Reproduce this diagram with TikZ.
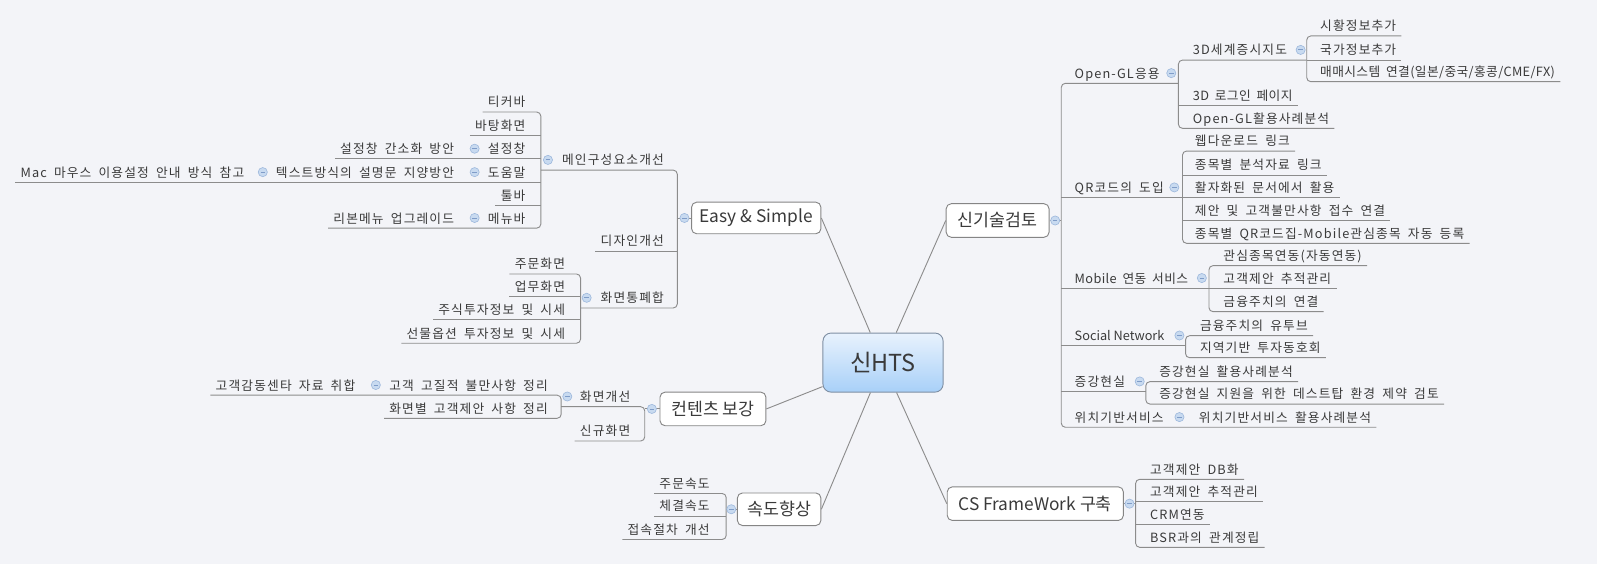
\documentclass[tikz,border=0pt]{standalone}
\usepackage{fontspec}
\setmainfont{Noto Sans CJK KR}[LetterSpace=9,WordSpace=1.8]
\newfontfamily\topicfont{Noto Sans CJK KR}
\newfontfamily\tightfont{Noto Sans CJK KR}[LetterSpace=3,WordSpace=1.8]
\usetikzlibrary{calc}
\definecolor{bg}{HTML}{F3F4F8}
\definecolor{lnc}{HTML}{8C8C8C}
\definecolor{txc}{HTML}{3A3A3A}
\definecolor{bdc}{HTML}{858585}
\definecolor{icf}{HTML}{C8DAF0}
\definecolor{icd}{HTML}{9DB8DC}
\definecolor{icm}{HTML}{7F9CC8}
\definecolor{htsA}{HTML}{E8F2FD}
\definecolor{htsB}{HTML}{A8D0F8}
\definecolor{htsD}{HTML}{7F8FA3}
\begin{document}
\begin{tikzpicture}[x=1pt,y=-1pt,
  line/.style={draw=lnc, line width=0.9pt},
  brk/.style={line, rounded corners=4pt},
  lbl/.style={font=\fontsize{12.5}{14}\selectfont, text=txc, inner sep=0pt},
  lL/.style={lbl, anchor=base east},
  lR/.style={lbl, anchor=base west},
  tlR/.style={lR, font=\tightfont\fontsize{12.5}{14}\selectfont},
  ttlR/.style={lR, font=\topicfont\fontsize{12.5}{14}\selectfont},
  topic/.style={draw=bdc, line width=0.9pt, fill=white, rounded corners=5pt,
    font=\topicfont\fontsize{17}{20}\selectfont, text=txc, inner sep=0pt},
  ico/.style={circle, draw=icd, fill=icf, line width=0.6pt, minimum size=9pt, inner sep=0pt,
    path picture={\draw[icm, line width=0.8pt] ([xshift=-2.2pt]path picture bounding box.center) -- ([xshift=2.2pt]path picture bounding box.center);}}
]
\fill[bg] (0,0) rectangle (1568,554);
\useasboundingbox (0,0) rectangle (1568,554);

% ---------- central and main topics ----------
\node[draw=htsD, line width=0.9pt, rounded corners=8pt, top color=htsA, bottom color=htsB,
  minimum width=118pt, minimum height=58pt, inner sep=0pt,
  font=\topicfont\fontsize{23}{26}\selectfont, text=txc] (hts) at (867,356) {신HTS};
\node[topic, minimum width=127pt, minimum height=31pt] (easy) at (742.5,214) {Easy \& Simple};
\node[topic, minimum width=104pt, minimum height=33pt] (knt) at (700,401.5) {컨텐츠 보강};
\node[topic, minimum width=82pt, minimum height=32pt] (sd) at (765,500) {속도향상};
\node[topic, minimum width=101pt, minimum height=33pt] (sgt) at (979.5,216.5) {신기술검토};
\node[topic, minimum width=173pt, minimum height=33pt] (cs) at (1016.5,494.5) {CS FrameWork 구축};

% ---------- left side: Easy & Simple ----------
\node[lL] (mcs) at (652,162) {메인구성요소개선};
\node[lL] (des) at (652,241.4) {디자인개선};
\node[lL] (hmt) at (652,297.4) {화면통폐합};

\node[lL] (tk) at (516,105) {티커바};
\node[lL] (bt) at (516,128) {바탕화면};
\node[lL] (sj) at (516,151) {설정창};
\node[lL] (dw) at (516,174) {도움말};
\node[lL] (tb) at (516,197) {툴바};
\node[lL] (mn) at (516,219) {메뉴바};
\node[lL] (sj1) at (446,151) {설정창 간소화 방안};
\node[lL] (dw1) at (446,174) {텍스트방식의 설명문 지양방안};
\node[lL] (dw2) at (240,174) {Mac 마우스 이용설정 안내 방식 참고};
\node[lL] (mn1) at (446,219) {리본메뉴 업그레이드};

\node[lL] (jm) at (555,264) {주문화면};
\node[lL] (um) at (555,286.5) {업무화면};
\node[lL] (js) at (555,309) {주식투자정보 및 시세};
\node[lL] (so) at (555,332) {선물옵션 투자정보 및 시세};

% ---------- left side: 컨텐츠 보강 ----------
\node[lL] (hg) at (619,394.3) {화면개선};
\node[lL] (sg) at (619,428) {신규화면};
\node[lL] (gg) at (538,383) {고객 고질적 불만사항 정리};
\node[lL] (gg1) at (349,383) {고객감동센타 자료 취합};
\node[lL] (hb) at (538,405.7) {화면별 고객제안 사항 정리};

% ---------- left side: 속도향상 ----------
\node[lL] (jms) at (697,479.5) {주문속도};
\node[lL] (cgs) at (697,501.6) {체결속도};
\node[lL] (jsj) at (697,524.7) {접속절차 개선};

% ---------- right side: 신기술검토 ----------
\node[lR] (ogl) at (1055,76.8) {Open-GL응용};
\node[lR] (qr) at (1055,189) {QR코드의 도입};
\node[tlR] (mob) at (1055,278) {Mobile 연동 서비스};
\node[ttlR] (sn) at (1055,334.4) {Social Network};
\node[lR] (ar) at (1055,379.5) {증강현실};
\node[lR] (lbs) at (1055,414.5) {위치기반서비스};

\node[lR] (w3d) at (1171,54) {3D세계증시지도};
\node[tlR] (lg) at (1171,99) {3D 로그인 페이지};
\node[lR] (oga) at (1171,121) {Open-GL활용사례분석};
\node[lR] (sh) at (1296,30.3) {시황정보추가};
\node[lR] (kg) at (1296,54) {국가정보추가};
\node[tlR] (mm) at (1296,75.2) {매매시스템 연결(일본/중국/홍콩/CME/FX)};

\node[lR] (wd) at (1173,143.3) {웹다운로드 링크};
\node[lR] (jb) at (1173,166.8) {종목별 분석자료 링크};
\node[lR] (hj) at (1173,189) {활자화된 문서에서 활용};
\node[lR] (jg) at (1173,211.7) {제안 및 고객불만사항 접수 연결};
\node[lR] (jq) at (1173,233.9) {종목별 QR코드집-Mobile관심종목 자동 등록};

\node[lR] (gs) at (1201,255.8) {관심종목연동(자동연동)};
\node[lR] (gc) at (1201,278) {고객제안 추적관리};
\node[lR] (gj) at (1201,301) {금융주치의 연결};

\node[lR] (gy) at (1178,324.6) {금융주치의 유투브};
\node[lR] (jy) at (1178,346.2) {지역기반 투자동호회};

\node[lR] (ar1) at (1138,369.7) {증강현실 활용사례분석};
\node[lR] (ar2) at (1138,391.7) {증강현실 지원을 위한 데스트탑 환경 제약 검토};

\node[lR] (lbs1) at (1177,414.5) {위치기반서비스 활용사례분석};

% ---------- right side: CS FrameWork ----------
\node[lR] (c1) at (1129,465.6) {고객제안 DB화};
\node[lR] (c2) at (1129,487.5) {고객제안 추적관리};
\node[lR] (c3) at (1129,510.4) {CRM연동};
\node[lR] (c4) at (1129,532.4) {BSR과의 관계정립};

% ---------- connectors from the centre ----------
\draw[line] (hts) -- (easy.east);
\draw[line] (hts) -- (knt.east);
\draw[line] (hts) -- (sd.east);
\draw[line] (hts) -- (sgt.west);
\draw[line] (hts) -- (cs.west);

% ---------- Easy & Simple branches ----------
\coordinate (bE) at (665,214);
\draw[brk] (531,167) -- (665,167) -- (665,302.4) -- (570,302.4);
\draw[line] ($(des.base west)+(-5,5)$) -- (665,246.4);
\draw[line] (bE) -- (easy.west);

\draw[brk] ($(tk.base west)+(-5,5)$) -- (531,110) -- (531,224) -- ($(mn1.base west)+(-5,5)$);
\draw[line] ($(bt.base west)+(-5,5)$) -- (531,133);
\draw[line] ($(sj1.base west)+(-5,5)$) -- (531,156);
\draw[line] ($(dw2.base west)+(-5,5)$) -- (531,179);
\draw[line] ($(tb.base west)+(-5,5)$) -- (531,202);

\draw[brk] ($(jm.base west)+(-5,5)$) -- (570,269) -- (570,337) -- ($(so.base west)+(-5,5)$);
\draw[line] ($(um.base west)+(-5,5)$) -- (570,291.5);
\draw[line] ($(js.base west)+(-5,5)$) -- (570,314);

% ---------- 컨텐츠 보강 branches ----------
\coordinate (bK) at (633,401.5);
\draw[brk] (551,399.3) -- (633,399.3) -- (633,433) -- ($(sg.base west)+(-5,5)$);
\draw[line] (bK) -- (knt.west);
\draw[brk] ($(gg1.base west)+(-5,5)$) -- (551,388) -- (551,410.7) -- ($(hb.base west)+(-5,5)$);

% ---------- 속도향상 branches ----------
\coordinate (bS) at (713,500);
\draw[brk] ($(jms.base west)+(-5,5)$) -- (713,484.5) -- (713,529.7) -- ($(jsj.base west)+(-5,5)$);
\draw[line] ($(cgs.base west)+(-5,5)$) -- (713,506.6);
\draw[line] (bS) -- (sd.west);

% ---------- 신기술검토 branches ----------
\coordinate (bN) at (1042,216.5);
\draw[line] (sgt.east) -- (bN);
\draw[brk] (1157,81.8) -- (1042,81.8) -- (1042,419.5) -- ($(lbs1.base east)+(5,5)$);
\draw[line] (1042,194) -- (1161,194);
\draw[line] (1042,283) -- (1187,283);
\draw[line] (1042,339.4) -- (1164,339.4);
\draw[line] (1042,384.5) -- (1125,384.5);

\draw[brk] (1283,59) -- (1157,59) -- (1157,126) -- ($(oga.base east)+(5,5)$);
\draw[line] (1157,104) -- ($(lg.base east)+(5,5)$);
\draw[brk] ($(sh.base east)+(5,5)$) -- (1283,35.3) -- (1283,80.2) -- ($(mm.base east)+(5,5)$);
\draw[line] (1283,59) -- ($(kg.base east)+(5,5)$);

\draw[brk] ($(wd.base east)+(5,5)$) -- (1161,148.3) -- (1161,238.9) -- ($(jq.base east)+(5,5)$);
\draw[line] (1161,171.8) -- ($(jb.base east)+(5,5)$);
\draw[line] (1161,194) -- ($(hj.base east)+(5,5)$);
\draw[line] (1161,216.7) -- ($(jg.base east)+(5,5)$);

\draw[brk] ($(gs.base east)+(5,5)$) -- (1187,260.8) -- (1187,306) -- ($(gj.base east)+(5,5)$);
\draw[line] (1187,283) -- ($(gc.base east)+(5,5)$);

\draw[brk] ($(gy.base east)+(5,5)$) -- (1164,329.6) -- (1164,351.2) -- ($(jy.base east)+(5,5)$);
\draw[brk] ($(ar1.base east)+(5,5)$) -- (1125,374.7) -- (1125,396.7) -- ($(ar2.base east)+(5,5)$);

% ---------- CS FrameWork branches ----------
\coordinate (bC) at (1115,494.5);
\draw[line] (cs.east) -- (bC);
\draw[brk] ($(c1.base east)+(5,5)$) -- (1115,470.6) -- (1115,537.4) -- ($(c4.base east)+(5,5)$);
\draw[line] (1115,492.5) -- ($(c2.base east)+(5,5)$);
\draw[line] (1115,515.4) -- ($(c3.base east)+(5,5)$);

% ---------- collapse icons ----------
\node[ico] (imcs) at (538,157) {};
\node[ico] (isj) at (466,146) {};
\node[ico] (idw) at (466,169) {};
\node[ico] (imn) at (466,214) {};
\node[ico] (idw1) at (258,169) {};
\node[ico] (ihmt) at (576,292.4) {};
\node[ico] (ieasy) at (672,214) {};
\node[ico] (ihg) at (557,389.3) {};
\node[ico] (igg) at (369,378) {};
\node[ico] (iknt) at (640,401.5) {};
\node[ico] (isd) at (718,500) {};
\node[ico] (isgt) at (1036,216.5) {};
\node[ico] (iogl) at (1150,71.8) {};
\node[ico] (iw3d) at (1277,49) {};
\node[ico] (iqr) at (1153,184) {};
\node[ico] (imob) at (1180,273) {};
\node[ico] (isn) at (1158,329.4) {};
\node[ico] (iar) at (1119,374.5) {};
\node[ico] (ilbs) at (1158,409.5) {};
\node[ico] (ics) at (1109,494.5) {};
\end{tikzpicture}
\end{document}
